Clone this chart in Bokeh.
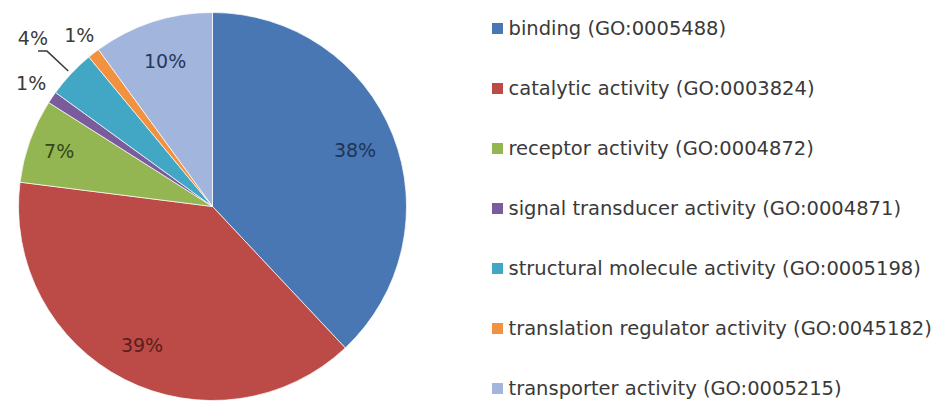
import numpy as np
from bokeh.plotting import figure
from bokeh.models import Range1d, ColumnDataSource
from bokeh.core.properties import value
from bokeh.embed import file_html
from bokeh.resources import INLINE

categories = [
    "binding (GO:0005488)",
    "catalytic activity (GO:0003824)",
    "receptor activity (GO:0004872)",
    "signal transducer activity (GO:0004871)",
    "structural molecule activity (GO:0005198)",
    "translation regulator activity (GO:0045182)",
    "transporter activity (GO:0005215)",
]
percents = [38, 39, 7, 1, 4, 1, 10]
colors = ["#4877B4", "#BC4A46", "#93B552", "#7A5C9C", "#42A7C4", "#F2913F", "#A2B5DC"]
label_colors = ["#1E3556", "#5A1E1D", "#34461A", "#3A3A3A", "#3A3A3A", "#3A3A3A", "#26395E"]
label_radius = [0.79, 0.80, 0.84, 1.13, 1.27, 1.12, 0.79]

W, H = 951, 402
cx, cy, R = 212, 196, 194

p = figure(width=W, height=H, output_backend="svg", toolbar_location=None,
           x_range=Range1d(0, W), y_range=Range1d(0, H), min_border=0)
p.axis.visible = False
p.grid.visible = False
p.outline_line_color = None
p.background_fill_color = "white"

vals = np.array(percents, dtype=float)
frac = vals / vals.sum()
cum = np.concatenate([[0], np.cumsum(frac)])
start = np.pi / 2 - 2 * np.pi * cum[:-1]
end = np.pi / 2 - 2 * np.pi * cum[1:]
mid = (start + end) / 2

src = ColumnDataSource(dict(start=start, end=end, color=colors))
p.wedge(x=cx, y=cy, radius=R, start_angle="start", end_angle="end",
        direction="clock", fill_color="color", line_color="white", line_width=0.7, source=src)

lr = np.array(label_radius) * R
lx = cx + lr * np.cos(mid)
ly = cy + lr * np.sin(mid)
labels = [f"{v:g}%" for v in percents]
lsrc = ColumnDataSource(dict(x=lx, y=ly, t=labels, c=label_colors))
p.text(x="x", y="y", text="t", text_color="c", source=lsrc,
       text_font=value("DejaVu Sans"), text_font_size="19px",
       text_align="center", text_baseline="middle")

# leader line for the 4% label
k = 4
x0 = cx + 1.02 * R * np.cos(mid[k]); y0 = cy + 1.02 * R * np.sin(mid[k])
x1 = cx + 1.17 * R * np.cos(mid[k]); y1 = cy + 1.17 * R * np.sin(mid[k])
p.line(x=[x0, x1, x1 - 9], y=[y0, y1, y1], line_color="#3A3A3A", line_width=1.5)

# legend
n = len(categories)
ly0 = H - 28
lys = ly0 - 60 * np.arange(n)
p.scatter(x=[497] * n, y=lys, marker="square", size=11, fill_color=colors, line_color=None)
p.text(x=[508] * n, y=lys, text=categories, text_color="#3A3A3A",
       text_font=value("DejaVu Sans"), text_font_size="19.5px",
       text_align="left", text_baseline="middle")

open("out.html", "w").write(file_html(p, INLINE))
